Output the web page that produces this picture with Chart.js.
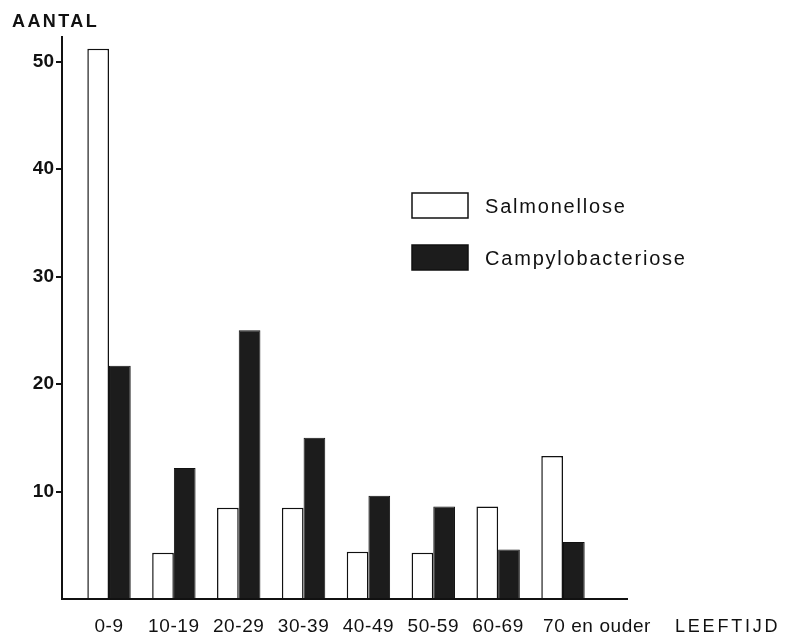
<!DOCTYPE html>
<html>
<head>
<meta charset="utf-8">
<title>Salmonellose / Campylobacteriose naar leeftijd</title>
<script src="https://cdn.jsdelivr.net/npm/chart.js@4/dist/chart.umd.min.js"></script>
<style>
  html, body { margin: 0; padding: 0; background: #ffffff; }
  #wrap { position: relative; width: 785px; height: 635px; }
</style>
</head>
<body>
<div id="wrap"><canvas id="chart"></canvas></div>
<script>
// ---------- DATA ----------
const categories = ["0-9", "10-19", "20-29", "30-39", "40-49", "50-59", "60-69", "70 en ouder"];
const salmonellose = [51.2, 4.3, 8.5, 8.5, 4.4, 4.3, 8.6, 13.3];
const campylobacteriose = [21.7, 12.2, 25.0, 15.0, 9.6, 8.6, 4.6, 5.3];
const seriesNames = ["Salmonellose", "Campylobacteriose"];
const yTitle = "AANTAL";
const xTitle = "LEEFTIJD";

const FONT = "'Liberation Sans', Arial, Helvetica, sans-serif";
const INK = "#111111";

// ---------- HELPERS ----------
function points(values) {
    return values.map((v, i) => ({ x: i, y: v }));
}

function spacedText(ctx, text, x, y, spacing) {
    ctx.letterSpacing = spacing + "px";
    ctx.fillText(text, x, y);
    ctx.letterSpacing = "0px";
}

// ---------- LABELS + LEGEND ----------
const decorations = {
    id: "decorations",
    afterDraw(chart) {
        const ctx = chart.ctx;
        const xs = chart.scales.x;
        const step = xs.getPixelForValue(1) - xs.getPixelForValue(0);

        ctx.save();
        ctx.fillStyle = INK;
        ctx.textBaseline = "alphabetic";

        // category labels under the axis
        ctx.font = "19px " + FONT;
        categories.forEach((c, i) => {
            const px = xs.getPixelForValue(i);
            const w = ctx.measureText(c).width;
            if (w > step * 0.9) {
                ctx.textAlign = "left";
                spacedText(ctx, c, px - 20, 632, 0.6);
            } else {
                ctx.textAlign = "center";
                spacedText(ctx, c, px, 632, 0.6);
            }
        });

        // axis titles
        ctx.textAlign = "left";
        ctx.font = "18px " + FONT;
        spacedText(ctx, xTitle, 675, 632, 2.8);
        ctx.font = "bold 18px " + FONT;
        spacedText(ctx, yTitle, 12, 27, 2.4);

        // legend
        ctx.font = "20px " + FONT;
        ctx.textBaseline = "middle";
        chart.data.datasets.forEach((ds, i) => {
            const top = 193 + i * 52;
            ctx.fillStyle = ds.backgroundColor;
            ctx.fillRect(412, top, 56, 25);
            ctx.lineWidth = 1.5;
            ctx.strokeStyle = INK;
            ctx.strokeRect(412, top, 56, 25);
            ctx.fillStyle = INK;
            spacedText(ctx, ds.label, 485, top + 14, 1.8);
        });

        ctx.restore();
    }
};

// ---------- CHART ----------
new Chart(document.getElementById("chart"), {
    type: "bar",
    data: {
        datasets: [
            {
                label: seriesNames[0],
                data: points(salmonellose),
                backgroundColor: "#ffffff",
                borderColor: INK,
                borderWidth: 1.5,
                categoryPercentage: 0.678,
                barPercentage: 1.0
            },
            {
                label: seriesNames[1],
                data: points(campylobacteriose),
                backgroundColor: "#1c1c1c",
                borderColor: INK,
                borderWidth: 1,
                categoryPercentage: 0.678,
                barPercentage: 1.0
            }
        ]
    },
    options: {
        responsive: true,
        maintainAspectRatio: false,
        animation: false,
        layout: {
            padding: { top: 37, right: 158, left: 0, bottom: 0 }
        },
        plugins: {
            legend: { display: false },
            tooltip: { enabled: false }
        },
        scales: {
            x: {
                type: "linear",
                offset: false,
                min: -0.725,
                max: 7.987,
                ticks: { display: false },
                grid: { display: false, offset: false },
                border: { display: true, color: INK, width: 2 },
                afterFit(scale) { scale.height = 36; }
            },
            y: {
                min: 0,
                max: 52.3,
                ticks: {
                    stepSize: 10,
                    includeBounds: false,
                    padding: 2,
                    color: INK,
                    font: { family: FONT, size: 19, weight: "bold" },
                    callback: v => (v === 0 ? "" : v)
                },
                grid: {
                    display: true,
                    drawOnChartArea: false,
                    drawTicks: true,
                    tickLength: 6,
                    lineWidth: 2,
                    color: ctx => (ctx.tick && ctx.tick.value === 0 ? "rgba(0,0,0,0)" : INK)
                },
                border: { display: true, color: INK, width: 2 },
                afterFit(scale) { scale.width = 62; }
            }
        }
    },
    plugins: [decorations]
});
</script>
</body>
</html>
